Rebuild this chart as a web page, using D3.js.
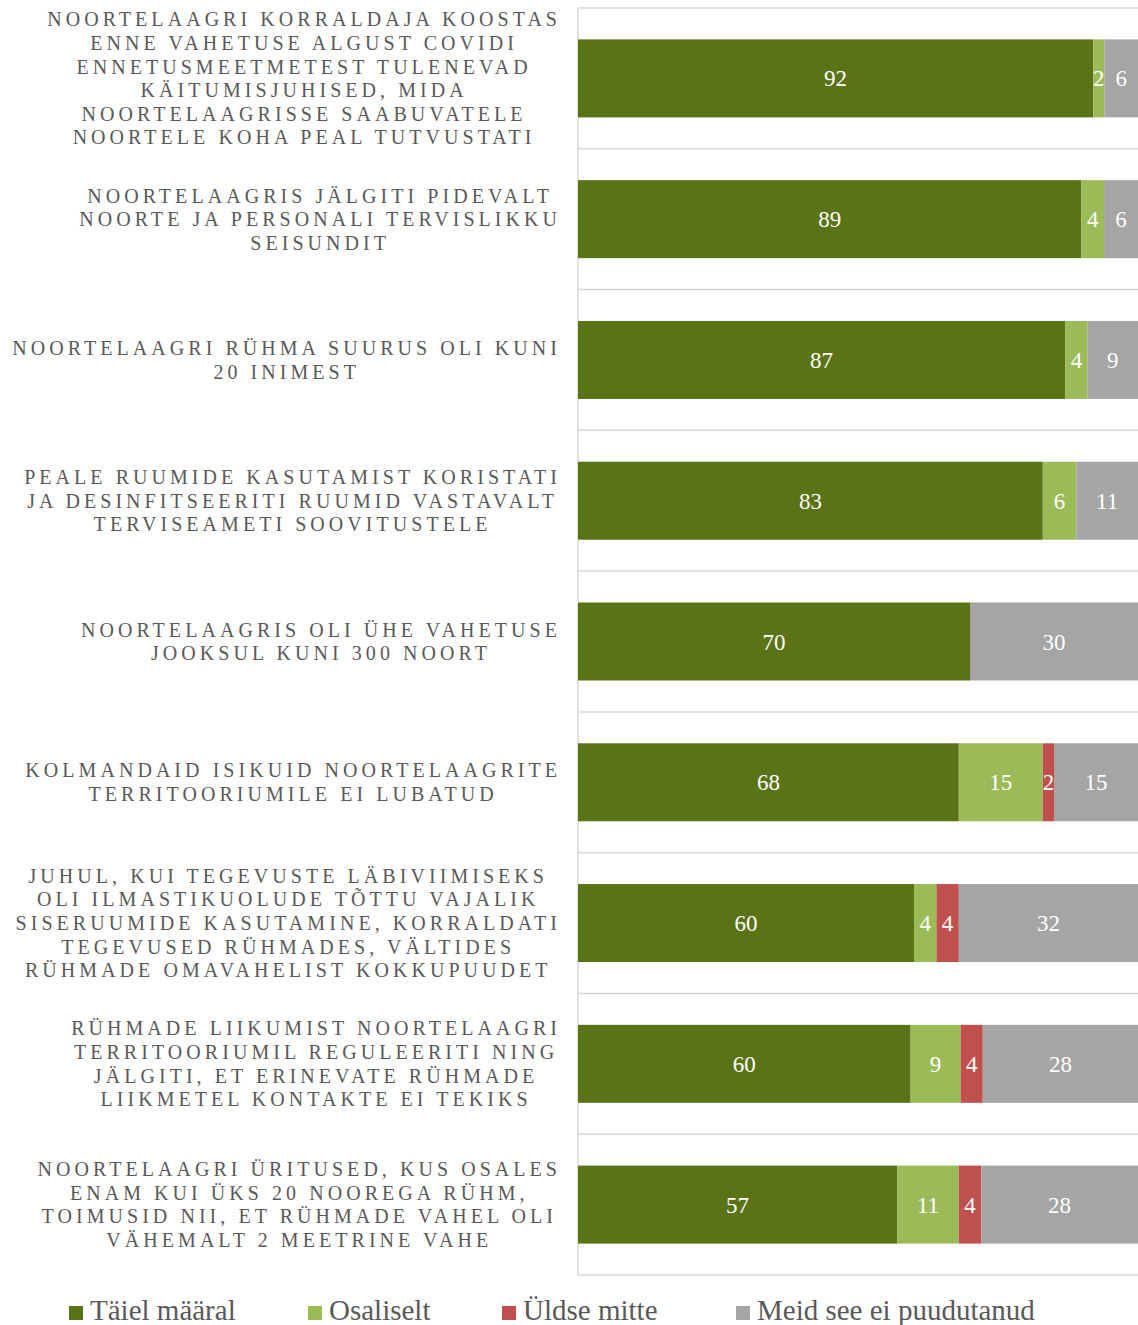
<!DOCTYPE html>
<html>
<head>
<meta charset="utf-8">
<script src="https://cdn.jsdelivr.net/npm/d3@7"></script>
<style>
  html, body { margin: 0; padding: 0; background: #fff; }
  svg { display: block; }
  svg text { font-family: "Liberation Serif", "Times New Roman", serif; }
</style>
</head>
<body>
<svg id="chart" width="1138" height="1325"></svg>
<script>
// category labels, already broken into the lines used in the picture
const categories = [
  ["NOORTELAAGRI KORRALDAJA KOOSTAS", "ENNE VAHETUSE ALGUST COVIDI", "ENNETUSMEETMETEST TULENEVAD", "KÄITUMISJUHISED, MIDA", "NOORTELAAGRISSE SAABUVATELE", "NOORTELE KOHA PEAL TUTVUSTATI"],
  ["NOORTELAAGRIS JÄLGITI PIDEVALT", "NOORTE JA PERSONALI TERVISLIKKU", "SEISUNDIT"],
  ["NOORTELAAGRI RÜHMA SUURUS OLI KUNI", "20 INIMEST"],
  ["PEALE RUUMIDE KASUTAMIST KORISTATI", "JA DESINFITSEERITI RUUMID VASTAVALT", "TERVISEAMETI SOOVITUSTELE"],
  ["NOORTELAAGRIS OLI ÜHE VAHETUSE", "JOOKSUL KUNI 300 NOORT"],
  ["KOLMANDAID ISIKUID NOORTELAAGRITE", "TERRITOORIUMILE EI LUBATUD"],
  ["JUHUL, KUI TEGEVUSTE LÄBIVIIMISEKS", "OLI ILMASTIKUOLUDE TÕTTU VAJALIK", "SISERUUMIDE KASUTAMINE, KORRALDATI", "TEGEVUSED RÜHMADES, VÄLTIDES", "RÜHMADE OMAVAHELIST KOKKUPUUDET"],
  ["RÜHMADE LIIKUMIST NOORTELAAGRI", "TERRITOORIUMIL REGULEERITI NING", "JÄLGITI, ET ERINEVATE RÜHMADE", "LIIKMETEL KONTAKTE EI TEKIKS"],
  ["NOORTELAAGRI ÜRITUSED, KUS OSALES", "ENAM KUI ÜKS 20 NOOREGA RÜHM,", "TOIMUSID NII, ET RÜHMADE VAHEL OLI", "VÄHEMALT 2 MEETRINE VAHE"]
];

const seriesNames = ["Täiel määral", "Osaliselt", "Üldse mitte", "Meid see ei puudutanud"];
const colors = ["#5b7317", "#9bbb59", "#c0504d", "#a5a5a5"];

const taielMaaral = [92, 89, 87, 83, 70, 68, 60, 60, 57];
const osaliselt   = [2, 4, 4, 6, 0, 15, 4, 9, 11];
const uldseMitte  = [0, 0, 0, 0, 0, 2, 4, 4, 4];
const meidEi      = [6, 6, 9, 11, 30, 15, 32, 28, 28];

const seriesValues = [taielMaaral, osaliselt, uldseMitte, meidEi];

const svg = d3.select("#chart");
const plotLeft = 578, plotRight = 1138, plotTop = 8, plotBottom = 1275;

const y = d3.scaleBand().domain(d3.range(categories.length)).range([plotTop, plotBottom]);
const barH = 78;
const x = d3.scaleLinear().domain([0, 1]).range([plotLeft, plotRight]);

// separators between categories
const grid = svg.append("g");
grid.selectAll("line").data(d3.range(categories.length + 1)).join("line")
  .attr("x1", plotLeft).attr("x2", plotRight)
  .attr("y1", i => (i < categories.length ? y(i) : plotBottom))
  .attr("y2", i => (i < categories.length ? y(i) : plotBottom))
  .attr("stroke", "#d9d9d9").attr("stroke-width", 1.5);
grid.append("line").attr("x1", plotLeft).attr("x2", plotLeft).attr("y1", plotTop).attr("y2", plotBottom)
  .attr("stroke", "#d9d9d9").attr("stroke-width", 1.5);

// build stacked rows (100% stacked, each row scaled to its own total)
const rows = categories.map((c, i) => {
  const vals = seriesValues.map(s => s[i]);
  const total = d3.sum(vals);
  let acc = 0;
  return vals.map((v, k) => {
    const seg = { i, k, v, x0: acc / total, x1: (acc + v) / total };
    acc += v;
    return seg;
  }).filter(d => d.v > 0);
});
const segs = rows.flat();

const bars = svg.append("g");
bars.selectAll("rect").data(segs).join("rect")
  .attr("x", d => x(d.x0))
  .attr("width", d => x(d.x1) - x(d.x0))
  .attr("y", d => y(d.i) + (y.bandwidth() - barH) / 2)
  .attr("height", barH)
  .attr("fill", d => colors[d.k]);

bars.selectAll("text").data(segs).join("text")
  .attr("x", d => (x(d.x0) + x(d.x1)) / 2)
  .attr("y", d => y(d.i) + y.bandwidth() / 2 + 8)
  .attr("text-anchor", "middle")
  .attr("font-size", 23)
  .attr("fill", "#ffffff")
  .text(d => d.v);

// category labels
const ls = 4.05;
const labelRight = 557 + ls;
const lineH = 23.6;
const labels = svg.append("g")
  .attr("font-size", 20)
  .attr("letter-spacing", ls + "px")
  .attr("fill", "#595959");

categories.forEach((lines, i) => {
  const g = labels.append("g");
  const cy = y(i) + y.bandwidth() / 2;
  const n = lines.length;
  const ts = g.selectAll("text").data(lines).join("text")
    .attr("y", (d, j) => cy + (j - (n - 1) / 2) * lineH + 7)
    .text(d => d);
  let maxW = 0;
  ts.each(function () { maxW = Math.max(maxW, this.getComputedTextLength()); });
  const cx = labelRight - maxW / 2;
  ts.attr("x", function () { return cx - this.getComputedTextLength() / 2; });
});

// legend
const legendX = [69, 308, 502, 736];
const legend = svg.append("g")
  .attr("font-size", 29)
  .attr("fill", "#595959");
const li = legend.selectAll("g").data(seriesNames).join("g")
  .attr("transform", (d, k) => `translate(${legendX[k]},0)`);
li.append("rect").attr("x", 0).attr("y", 1306).attr("width", 14).attr("height", 14)
  .attr("fill", (d, k) => colors[k]);
li.append("text").attr("x", 21).attr("y", 1320).text(d => d);
</script>
</body>
</html>
